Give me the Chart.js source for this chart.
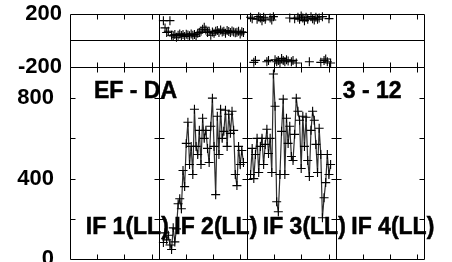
<!DOCTYPE html>
<html>
<head>
<meta charset="utf-8">
<script src="https://cdn.jsdelivr.net/npm/chart.js@4/dist/chart.umd.min.js"></script>
<style>
    html, body { margin: 0; padding: 0; background: #fff; overflow: hidden; }
    #wrap { position: relative; width: 452px; height: 280px; }
</style>
</head>
<body>
<div id="wrap"><canvas id="myChart"></canvas></div>
<script>
// 4 panels on one x axis, each panel 32.5 units wide, ticks every 10 units
const panelEdges = [0, 32.5, 65, 97.5, 130]
const panelNames = ['IF 1(LL)', 'IF 2(LL)', 'IF 3(LL)', 'IF 4(LL)']
const titleLeft = 'EF - DA'
const titleRight = '3 - 12'

// samples (x step in axis units)
const sampleStep = 0.6
const if2Start = 34.3
const if3Start = 66.3

// lower plot (EF - DA), panel 2 and 3
const efIf2 = [82, 130, 95, 118, 70, 47, 155, 85, 150, 275,
    300, 250, 440, 360, 575, 680, 470, 560, 420, 745,
    560, 520, 640, 470, 700, 600, 640, 550, 480, 660,
    800, 560, 320, 710, 520, 745, 600, 635, 740, 560,
    720, 625, 735, 640, 420, 365, 560, 470, 540, 480]
const efIf3 = [420, 550, 400, 520, 600, 430, 560, 600, 470, 570,
    645, 525, 600, 430, 920, 760, 285, 235, 420, 635,
    795, 420, 700, 575, 660, 510, 490, 620, 800, 735,
    690, 450, 710, 560, 705, 490, 410, 640, 735, 690,
    570, 430, 650, 520, 205, 305, 380, 520, 420, 470]

// upper plot (phase), panel 2 and 3
const phIf2 = [150, 95, 60, 70, 150, 40, 35, 45, 25, 40,
    50, 38, 45, 30, 48, 42, 35, 50, 40, 45,
    32, 55, 60, 70, 85, 100, 80, 60, 70, 40,
    65, 55, 70, 75, 60, 80, 65, 70, 55, 75,
    68, 60, 72, 65, 58, 62, 70, 50, 66, 60]
const phIf3 = [175, 165, -165, -150, 160, 180, 170, 150, 175, 160,
    -160, -150, 170, 155, 180, -145, -160, -150, -170, -135,
    -150, -160, -145, -155, 170, -160, -150, 165, -170, 175,
    160, 185, 170, 150, 175, 160, -160, 180, 165, 155,
    175, 160, 170, -165, 180, -150, -140, -160, 165, -170]

function toPoints(start, vals) {
    return vals.map((v, i) => ({x: start + i * sampleStep, y: v}))
}

const tickFont = {family: 'Liberation Sans, Arial, sans-serif', size: 22, weight: 'bold'}
const textFont = 'bold 23px "Liberation Sans", Arial, sans-serif'

function crisp(v) {
    return Math.round(v) + 0.5
}

// frame, panel dividers, inward ticks and the text labels
const framePlugin = {
    id: 'frame',
    afterDatasetsDraw(chart) {
        const {ctx, chartArea: a} = chart
        const x = chart.scales.x, yTop = chart.scales.yTop, yBot = chart.scales.yBot
        const L = crisp(a.left), R = crisp(a.right)
        const t0 = crisp(yTop.top), t1 = crisp(yTop.bottom), b1 = crisp(yBot.bottom)
        const tl = 5
        ctx.save()
        ctx.strokeStyle = '#000'
        ctx.lineWidth = 1
        ctx.beginPath()
        ctx.rect(L, t0, R - L, t1 - t0)
        ctx.rect(L, t1, R - L, b1 - t1)
        // dividers
        for (let i = 1; i < panelEdges.length - 1; i++) {
            const px = crisp(x.getPixelForValue(panelEdges[i]))
            ctx.moveTo(px, t0)
            ctx.lineTo(px, b1)
        }
        // x ticks inside every panel
        for (let i = 0; i < panelEdges.length - 1; i++) {
            for (let k = 10; k < 32.5; k += 10) {
                const px = crisp(x.getPixelForValue(panelEdges[i] + k))
                ctx.moveTo(px, t0); ctx.lineTo(px, t0 + tl)
                ctx.moveTo(px, t1); ctx.lineTo(px, t1 - tl)
                ctx.moveTo(px, t1); ctx.lineTo(px, t1 + tl)
                ctx.moveTo(px, b1); ctx.lineTo(px, b1 - tl)
            }
        }
        // y ticks on each panel edge
        for (let i = 0; i < panelEdges.length; i++) {
            const px = crisp(x.getPixelForValue(panelEdges[i]))
            for (let v = 200; v <= 800; v += 200) {
                const py = crisp(yBot.getPixelForValue(v))
                if (i > 0) { ctx.moveTo(px, py); ctx.lineTo(px - tl, py) }
                if (i < panelEdges.length - 1) { ctx.moveTo(px, py); ctx.lineTo(px + tl, py) }
            }
        }
        ctx.stroke()

        // texts
        ctx.fillStyle = '#000'
        ctx.strokeStyle = '#000'
        ctx.lineWidth = 0.5
        ctx.font = textFont
        ctx.textBaseline = 'middle'
        ctx.textAlign = 'left'
        const put = (s, px, py) => { ctx.fillText(s, px, py); ctx.strokeText(s, px, py) }
        put(titleLeft, x.getPixelForValue(8.8), yBot.getPixelForValue(832))
        put(titleRight, x.getPixelForValue(100.2), yBot.getPixelForValue(832))
        panelNames.forEach((name, i) => {
            put(name, x.getPixelForValue(panelEdges[i] + 5.8), yBot.getPixelForValue(155))
        })
        ctx.restore()
    }
}

function fitLeft(scale) {
    scale.width = 70
    scale.paddingTop = 0
    scale.paddingBottom = 0
}

const lineStyle = {
    yAxisID: 'yBot',
    borderColor: '#2e2e2e',
    borderWidth: 1.2,
    pointStyle: 'cross',
    pointRadius: 4.5,
    pointBorderColor: '#000',
    pointBorderWidth: 1.1,
    tension: 0,
}
const markStyle = {
    yAxisID: 'yTop',
    showLine: false,
    pointStyle: 'cross',
    pointRadius: 4.5,
    pointBorderColor: '#000',
    pointBorderWidth: 1.1,
    clip: false,
}

const chart = new Chart(document.getElementById('myChart'), {
    type: 'line',
    data: {
        datasets: [
            Object.assign({data: toPoints(if2Start, efIf2)}, lineStyle),
            Object.assign({data: toPoints(if3Start, efIf3)}, lineStyle),
            Object.assign({data: toPoints(if2Start, phIf2)}, markStyle),
            Object.assign({data: toPoints(if3Start, phIf3)}, markStyle),
        ]
    },
    options: {
        responsive: true,
        maintainAspectRatio: false,
        animation: false,
        layout: {padding: {top: 14, right: 28, bottom: 21, left: 0}},
        plugins: {legend: {display: false}, tooltip: {enabled: false}},
        scales: {
            x: {type: 'linear', min: 0, max: 130, display: false},
            yBot: {
                type: 'linear', position: 'left', stack: 'p', stackWeight: 192,
                min: 0, max: 955,
                border: {display: false},
                grid: {display: false},
                ticks: {
                    stepSize: 200, includeBounds: false, autoSkip: false,
                    padding: 8, color: '#000', font: tickFont,
                    callback: v => (v % 400 === 0 ? v : '')
                },
                afterFit: fitLeft
            },
            yTop: {
                type: 'linear', position: 'left', stack: 'p', stackWeight: 53,
                min: -200, max: 200,
                border: {display: false},
                grid: {
                    drawTicks: false,
                    lineWidth: 1,
                    color: c => (c.tick && c.tick.value === 0 ? '#000' : 'rgba(0,0,0,0)')
                },
                ticks: {
                    stepSize: 200, autoSkip: false,
                    padding: 8, color: '#000', font: tickFont,
                    callback: v => (v === 0 ? '' : v)
                },
                afterFit: fitLeft
            }
        }
    },
    plugins: [framePlugin]
})
</script>
</body>
</html>
